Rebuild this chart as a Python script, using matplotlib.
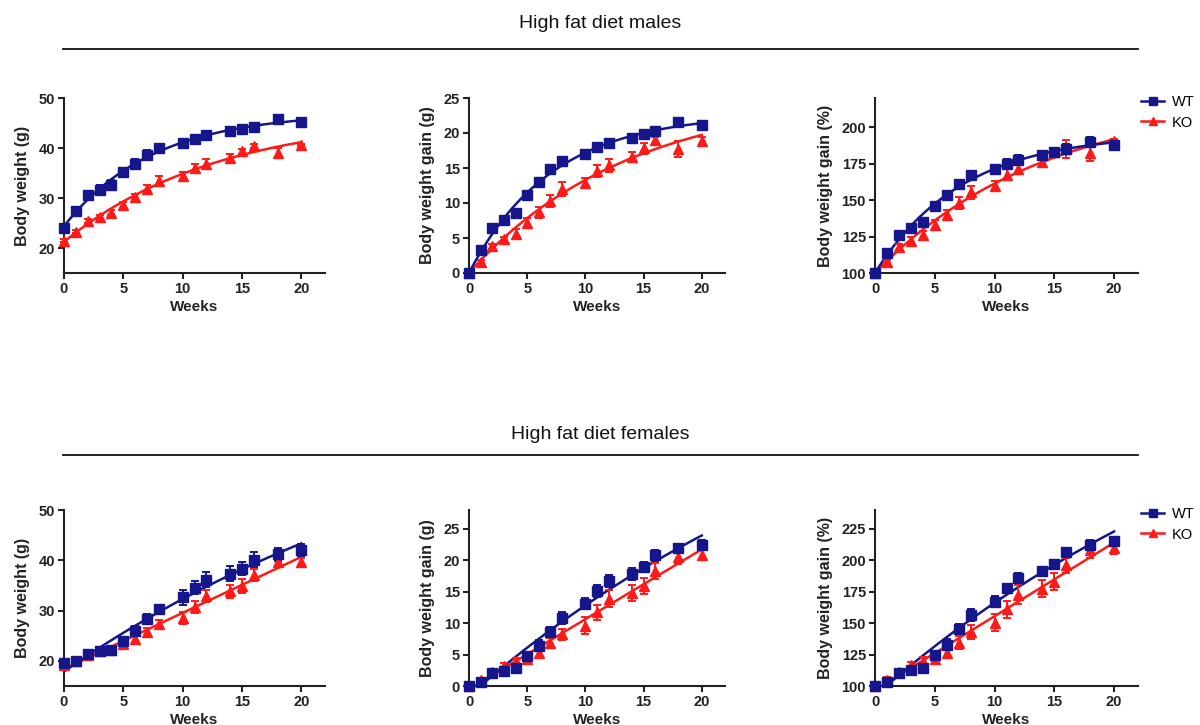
import numpy as np
import matplotlib
matplotlib.use("Agg")
import matplotlib.pyplot as plt
from matplotlib.lines import Line2D

plt.rcParams['font.family'] = ['Liberation Sans', 'DejaVu Sans']

weeks = np.array([0, 1, 2, 3, 4, 5, 6, 7, 8, 10, 11, 12, 14, 15, 16, 18, 20], dtype=float)

# ---- High fat diet males ----
m_bw_wt = [24.1, 27.4, 30.6, 31.7, 32.6, 35.2, 36.9, 38.6, 40.0, 41.0, 41.9, 42.6, 43.4, 43.8, 44.2, 45.8, 45.2]
m_bw_wt_err = [0.4, 0.8, 0.9, 0.9, 1.0, 0.7, 1.0, 1.0, 0.8, 0.7, 0.6, 0.5, 0.6, 0.6, 0.6, 0.7, 0.9]
m_bw_ko = [21.5, 23.3, 25.4, 26.2, 27.1, 28.6, 30.2, 31.9, 33.5, 34.4, 36.0, 36.8, 38.1, 39.4, 40.5, 39.0, 40.6]
m_bw_ko_err = [0.3, 0.3, 0.4, 0.4, 0.5, 0.6, 0.7, 0.8, 1.0, 0.8, 0.9, 1.0, 0.8, 0.5, 0.4, 1.0, 0.3]

m_gain_wt = [0.0, 3.35, 6.45, 7.6, 8.6, 11.2, 13.0, 14.8, 16.0, 17.0, 18.0, 18.6, 19.3, 19.8, 20.3, 21.6, 21.1]
m_gain_wt_err = [0.0, 0.3, 0.4, 0.4, 0.4, 0.3, 0.5, 0.6, 0.5, 0.5, 0.6, 0.5, 0.5, 0.5, 0.6, 0.5, 0.6]
m_gain_ko = [0.0, 1.6, 3.8, 4.8, 5.6, 7.1, 8.7, 10.3, 12.0, 12.9, 14.6, 15.4, 16.6, 17.8, 19.0, 17.7, 18.9]
m_gain_ko_err = [0.0, 0.2, 0.3, 0.4, 0.7, 0.7, 0.8, 0.9, 1.0, 0.7, 0.9, 0.9, 0.7, 0.8, 0.5, 1.1, 0.6]

m_pct_wt = [100.0, 113.7, 126.3, 131.1, 135.2, 146.0, 153.8, 161.1, 167.0, 171.0, 174.8, 177.6, 181.0, 182.8, 185.0, 190.0, 187.6]
m_pct_wt_err = [0.0, 1.5, 2.0, 2.0, 2.0, 1.8, 2.0, 2.5, 2.5, 3.0, 3.5, 3.5, 3.0, 3.0, 3.5, 3.5, 3.0]
m_pct_ko = [100.0, 107.3, 118.0, 122.0, 126.0, 133.0, 140.0, 148.0, 155.5, 159.5, 167.5, 171.0, 176.0, 183.0, 185.0, 182.0, 190.5]
m_pct_ko_err = [0.0, 1.5, 2.0, 2.5, 3.0, 3.5, 3.5, 4.0, 4.5, 3.5, 3.5, 3.0, 3.0, 3.0, 6.0, 5.5, 1.5]

# ---- High fat diet females ----
f_bw_wt = [19.5, 20.0, 21.4, 21.9, 22.2, 24.0, 26.0, 28.3, 30.4, 32.6, 34.5, 36.1, 37.3, 38.3, 40.1, 41.2, 42.0]
f_bw_wt_err = [0.3, 0.3, 0.4, 0.4, 0.3, 0.7, 1.0, 1.0, 0.7, 1.4, 1.3, 1.5, 1.5, 1.3, 1.5, 1.3, 1.2]
f_bw_ko = [19.1, 19.9, 21.2, 21.9, 22.1, 23.3, 24.3, 25.7, 27.3, 28.6, 30.7, 32.9, 33.8, 34.8, 37.1, 39.6, 39.7]
f_bw_ko_err = [0.3, 0.3, 0.3, 0.4, 0.4, 0.5, 0.6, 0.9, 0.9, 1.2, 1.2, 1.2, 1.3, 1.4, 1.2, 0.8, 0.7]

f_gain_wt = [0.0, 0.6, 2.0, 2.35, 2.8, 4.7, 6.4, 8.6, 10.8, 13.1, 15.1, 16.7, 17.8, 18.9, 20.8, 21.9, 22.4]
f_gain_wt_err = [0.0, 0.3, 0.3, 0.3, 0.3, 0.6, 0.9, 0.8, 0.9, 0.9, 0.9, 1.0, 0.9, 0.8, 0.9, 0.7, 0.8]
f_gain_ko = [0.0, 1.0, 2.2, 3.2, 3.9, 4.3, 5.2, 6.8, 8.2, 9.6, 11.7, 13.9, 14.8, 15.9, 18.3, 20.6, 20.9]
f_gain_ko_err = [0.0, 0.3, 0.4, 0.4, 0.5, 0.5, 0.6, 0.8, 0.9, 1.3, 1.2, 1.4, 1.3, 1.3, 1.3, 1.2, 0.9]

f_pct_wt = [100.0, 103.2, 110.4, 112.5, 114.7, 124.5, 133.0, 145.0, 156.5, 167.2, 177.8, 186.0, 191.5, 196.8, 206.3, 212.5, 215.7]
f_pct_wt_err = [0.0, 1.5, 1.5, 2.0, 2.0, 3.0, 4.5, 4.0, 5.0, 4.0, 3.5, 3.5, 2.5, 2.0, 2.5, 4.0, 2.5]
f_pct_ko = [100.0, 105.0, 111.5, 116.5, 120.0, 121.5, 126.5, 134.5, 143.0, 150.5, 161.0, 172.5, 177.5, 183.0, 196.0, 208.5, 210.0]
f_pct_ko_err = [0.0, 2.0, 2.0, 2.5, 3.0, 3.0, 4.0, 5.0, 5.5, 7.0, 7.0, 7.5, 7.0, 7.0, 6.0, 6.5, 5.0]

series_labels = ["WT", "KO"]
row_titles = ["High fat diet males", "High fat diet females"]
y_labels = ["Body weight (g)", "Body weight gain (g)", "Body weight gain (%)"]
x_label = "Weeks"

WT_COLOR = "#16168c"
KO_COLOR = "#ff1a1a"
AX_COLOR = "#222222"


def fit_assoc(x, y, y0=None):
    """Least-squares one-phase association y = P - (P - y0) * exp(-k x)."""
    x = np.asarray(x, float)
    y = np.asarray(y, float)
    best = None
    for k in np.linspace(0.0005, 0.6, 4000):
        e = np.exp(-k * x)
        if y0 is None:
            A = np.column_stack([np.ones_like(x), -e])
            coef, *_ = np.linalg.lstsq(A, y, rcond=None)
            pred = A @ coef
            params = (k, coef[0], coef[1])
        else:
            b = 1 - e
            span = np.dot(b, y - y0) / np.dot(b, b)
            pred = y0 + span * b
            params = (k, y0 + span, span)
        sse = np.sum((pred - y) ** 2)
        if best is None or sse < best[0]:
            best = (sse, params)
    k, P, B = best[1]
    return lambda t: P - B * np.exp(-k * t)


panels = [
    # row, col, wt, wt_err, ko, ko_err, ylim, yticks, fixed y0
    (0, 0, m_bw_wt, m_bw_wt_err, m_bw_ko, m_bw_ko_err, (15, 50), [20, 30, 40, 50], None),
    (0, 1, m_gain_wt, m_gain_wt_err, m_gain_ko, m_gain_ko_err, (0, 25), [0, 5, 10, 15, 20, 25], 0.0),
    (0, 2, m_pct_wt, m_pct_wt_err, m_pct_ko, m_pct_ko_err, (100, 220), [100, 125, 150, 175, 200], 100.0),
    (1, 0, f_bw_wt, f_bw_wt_err, f_bw_ko, f_bw_ko_err, (15, 50), [20, 30, 40, 50], None),
    (1, 1, f_gain_wt, f_gain_wt_err, f_gain_ko, f_gain_ko_err, (0, 28), [0, 5, 10, 15, 20, 25], None),
    (1, 2, f_pct_wt, f_pct_wt_err, f_pct_ko, f_pct_ko_err, (100, 240), [100, 125, 150, 175, 200, 225], None),
]

fig = plt.figure(figsize=(12, 7.25), dpi=100)

col_x = [(64, 325), (469, 725), (875, 1138)]
row_y = [(98, 273), (510, 686)]
W, H = 1200.0, 725.0

for row, col, wt, wte, ko, koe, ylim, yticks, y0 in panels:
    x0, x1 = col_x[col]
    yt, yb = row_y[row]
    ax = fig.add_axes([x0 / W, 1 - yb / H, (x1 - x0) / W, (yb - yt) / H])
    tt = np.linspace(0, 20, 300)
    for vals, errs, color, marker, ms in [(ko, koe, KO_COLOR, '^', 7.2), (wt, wte, WT_COLOR, 's', 7.0)]:
        f = fit_assoc(weeks, vals, y0)
        ax.plot(tt, f(tt), color=color, lw=1.8, zorder=2)
        ax.errorbar(weeks, vals, yerr=errs, fmt=marker, color=color, ms=ms,
                    ecolor=color, elinewidth=1.4, capsize=3.2, capthick=1.4,
                    zorder=3, clip_on=False)
    ax.set_xlim(0, 22)
    ax.set_ylim(*ylim)
    ax.set_xticks([0, 5, 10, 15, 20])
    ax.set_yticks(yticks)
    for s in ['top', 'right']:
        ax.spines[s].set_visible(False)
    for s in ['left', 'bottom']:
        ax.spines[s].set_linewidth(1.5)
        ax.spines[s].set_color(AX_COLOR)
    ax.tick_params(direction='out', length=4, width=1.5, color=AX_COLOR,
                   labelsize=10.5, pad=2.5)
    for lab in ax.get_xticklabels() + ax.get_yticklabels():
        lab.set_fontweight('bold')
        lab.set_color(AX_COLOR)
    ax.set_xlabel(x_label, fontsize=11, fontweight='bold', color=AX_COLOR, labelpad=3)
    ax.set_ylabel(y_labels[col], fontsize=11.5, fontweight='bold', color=AX_COLOR, labelpad=6)

# Row titles and separators
for title, ty, ly in [(row_titles[0], 24, 49), (row_titles[1], 434, 455)]:
    fig.text(600 / W, 1 - ty / H, title, ha='center', va='center', fontsize=14, color='#111111')
    fig.add_artist(Line2D([63 / W, 1138 / W], [1 - ly / H, 1 - ly / H], color='#111111', lw=1.3))

# Legends
handles = [Line2D([], [], color=WT_COLOR, marker='s', ms=5.5, lw=1.8),
           Line2D([], [], color=KO_COLOR, marker='^', ms=6, lw=1.8)]
for top in [95, 507]:
    fig.legend(handles, series_labels, loc='upper left', bbox_to_anchor=(1141 / W, 1 - top / H),
               frameon=False, fontsize=10.5, handlelength=1.6, handletextpad=0.5,
               labelspacing=0.45, borderpad=0, borderaxespad=0)

fig.savefig("out.png", dpi=100)
